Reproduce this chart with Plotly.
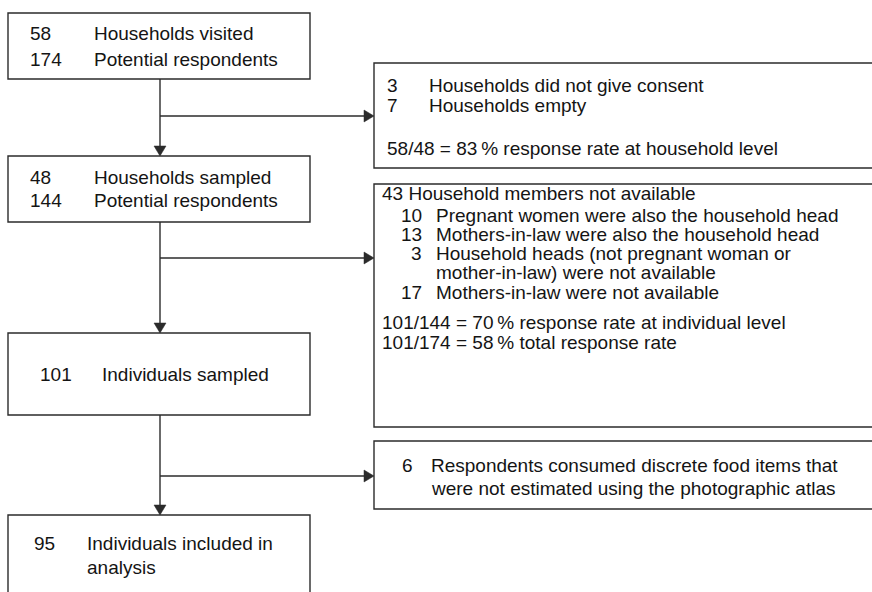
import plotly.graph_objects as go

# ---- data (flow counts and labels) ----
visited_counts = [58, 174]
visited_labels = ["Households visited", "Potential respondents"]
sampled_counts = [48, 144]
sampled_labels = ["Households sampled", "Potential respondents"]
individuals_count = [101]
individuals_label = ["Individuals sampled"]
included_count = [95]
included_label = ["Individuals included in", "analysis"]

excl1_counts = [3, 7]
excl1_labels = ["Households did not give consent", "Households empty"]
excl1_rate = ["58/48 = 83\u2009% response rate at household level"]

excl2_header = ["43 Household members not available"]
excl2_counts = ["10", "13", "3", "", "17"]
excl2_labels = ["Pregnant women were also the household head",
                "Mothers-in-law were also the household head",
                "Household heads (not pregnant woman or",
                "mother-in-law) were not available",
                "Mothers-in-law were not available"]
excl2_rates = ["101/144 = 70\u2009% response rate at individual level",
               "101/174 = 58\u2009% total response rate"]

excl3_count = [6]
excl3_labels = ["Respondents consumed discrete food items that",
                "were not estimated using the photographic atlas"]

# ---- layout geometry (pixel space) ----
W, H = 872, 592
FONT = "Liberation Sans, Arial, Helvetica, sans-serif"
FS = 19
LINE = "#2b2b2b"
TXT = "#141414"
LW = 1.4

main_boxes = [(8, 13, 310, 79), (8, 156, 310, 222), (8, 333, 310, 415), (8, 515, 310, 620)]
side_boxes = [(374, 63, 890, 168), (374, 184, 890, 427), (374, 441, 890, 509)]
spine_x = 160
branch_y = [116, 258, 476]

shapes = []
for (x0, y0, x1, y1) in main_boxes + side_boxes:
    shapes.append(dict(type="rect", x0=x0, y0=y0, x1=x1, y1=y1,
                       line=dict(color=LINE, width=LW), fillcolor="white", layer="below"))
# vertical connectors with down arrows
for i in range(3):
    ytop = main_boxes[i][3]
    ybot = main_boxes[i + 1][1]
    shapes.append(dict(type="line", x0=spine_x, x1=spine_x, y0=ytop, y1=ybot - 6,
                       line=dict(color=LINE, width=LW)))
    shapes.append(dict(type="path",
                       path=f"M {spine_x-6},{ybot-10} L {spine_x+6},{ybot-10} L {spine_x},{ybot} Z",
                       fillcolor=LINE, line=dict(color=LINE, width=0.5)))
# horizontal branches with right arrows
for by, sb in zip(branch_y, side_boxes):
    xr = sb[0]
    shapes.append(dict(type="line", x0=spine_x, x1=xr - 6, y0=by, y1=by,
                       line=dict(color=LINE, width=LW)))
    shapes.append(dict(type="path",
                       path=f"M {xr-10},{by-6} L {xr-10},{by+6} L {xr},{by} Z",
                       fillcolor=LINE, line=dict(color=LINE, width=0.5)))

annotations = []


def add_text(x, y, text, anchor="left"):
    annotations.append(dict(x=x, y=y, xref="x", yref="y", text=text, showarrow=False,
                            xanchor=anchor, yanchor="middle",
                            font=dict(family=FONT, size=FS, color=TXT)))


# main boxes
for (c, lab), y in zip(zip(visited_counts, visited_labels), [33, 59]):
    add_text(28, y, str(c))
    add_text(92, y, lab)
for (c, lab), y in zip(zip(sampled_counts, sampled_labels), [177, 200]):
    add_text(28, y, str(c))
    add_text(92, y, lab)
add_text(38, 374, str(individuals_count[0]))
add_text(100, 374, individuals_label[0])
add_text(32, 543, str(included_count[0]))
for lab, y in zip(included_label, [543, 567]):
    add_text(85, y, lab)

# side box 1
for (c, lab), y in zip(zip(excl1_counts, excl1_labels), [85, 105]):
    add_text(385, y, str(c))
    add_text(427, y, lab)
add_text(385, 148, excl1_rate[0])

# side box 2
add_text(380, 193, excl2_header[0])
for c, lab, y in zip(excl2_counts, excl2_labels, [215, 234, 253, 272, 292]):
    if c:
        add_text(424, y, c, anchor="right")
    add_text(434, y, lab)
for lab, y in zip(excl2_rates, [322, 342]):
    add_text(380, y, lab)

# side box 3
add_text(400, 465, str(excl3_count[0]))
for lab, y in zip(excl3_labels, [465, 488]):
    add_text(429, y, lab)

fig = go.Figure()
fig.add_trace(go.Scatter(x=[0, W], y=[0, H], mode="markers",
                         marker=dict(opacity=0), hoverinfo="skip", showlegend=False))
fig.update_layout(
    width=W, height=H,
    margin=dict(l=0, r=0, t=0, b=0),
    paper_bgcolor="white", plot_bgcolor="white",
    xaxis=dict(range=[0, W], visible=False, fixedrange=True),
    yaxis=dict(range=[H, 0], visible=False, fixedrange=True),
    shapes=shapes, annotations=annotations, showlegend=False,
)
fig.write_html("out.html", config={"displayModeBar": False},
               post_script="document.body.style.margin='0';document.body.style.overflow='hidden';")
